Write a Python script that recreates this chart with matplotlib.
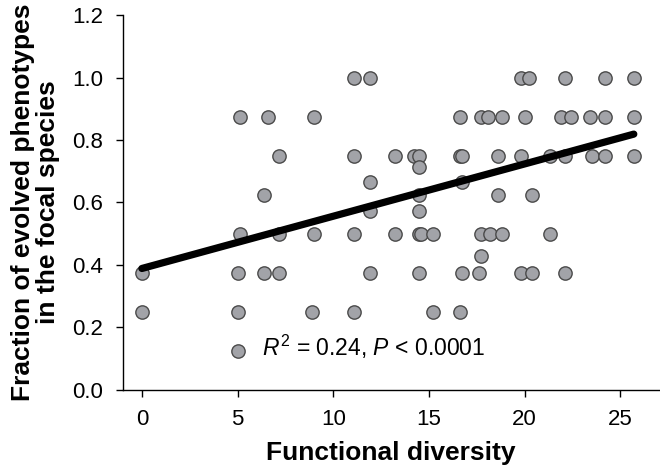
import numpy as np
import matplotlib
matplotlib.use("Agg")
import matplotlib.pyplot as plt

plt.rcParams['font.family'] = ['Liberation Sans', 'DejaVu Sans']
plt.rcParams['mathtext.fontset'] = 'custom'
plt.rcParams['mathtext.rm'] = 'Liberation Sans'
plt.rcParams['mathtext.it'] = 'Liberation Sans:italic'

# Data (x = functional diversity, y = fraction)
x_100 = [11.1, 11.9, 19.8, 20.2, 22.1, 24.2, 25.7]
x_0875 = [5.1, 6.6, 9.0, 16.6, 17.7, 18.1, 18.8, 20.0, 21.9, 22.4, 23.4, 24.2, 25.7]
x_075 = [7.15, 11.1, 13.2, 14.2, 14.5, 16.6, 16.7, 18.6, 19.8, 21.3, 22.1, 23.5, 24.2, 25.7]
x_0714 = [14.5]
x_0667 = [11.9, 16.7]
x_0625 = [6.4, 14.5, 18.6, 20.4]
x_0571 = [11.9, 14.5]
x_050 = [5.1, 7.15, 9.0, 11.1, 13.2, 14.5, 14.6, 15.2, 17.7, 18.2, 18.8, 21.3]
x_0429 = [17.7]
x_0375 = [0.0, 5.0, 6.4, 7.15, 11.9, 14.5, 16.7, 17.6, 19.8, 20.4, 22.1]
x_025 = [0.0, 5.0, 8.9, 11.1, 15.2, 16.6]
x_0125 = [5.0]

row_values = [1.0, 0.875, 0.75, 5/7, 2/3, 0.625, 4/7, 0.5, 3/7, 0.375, 0.25, 0.125]
row_xs = [x_100, x_0875, x_075, x_0714, x_0667, x_0625, x_0571, x_050, x_0429, x_0375, x_025, x_0125]

# Regression line (as shown in the figure)
fit_intercept = 0.388
fit_slope = 0.01676

xticks = [0, 5, 10, 15, 20, 25]
yticks = [0.0, 0.2, 0.4, 0.6, 0.8, 1.0, 1.2]

xs = np.concatenate([np.array(v, float) for v in row_xs])
ys = np.concatenate([np.full(len(v), r) for v, r in zip(row_xs, row_values)])

fig = plt.figure(figsize=(6.6, 4.75), dpi=100)
ax = fig.add_axes([0.186, 0.18, 0.812, 0.788])

ax.scatter(xs, ys, s=92, facecolor='#a2a3a8', edgecolor='#4a4a4a', linewidth=1.0, zorder=3)
lx = np.array([xs.min(), xs.max()])
ax.plot(lx, fit_intercept + fit_slope * lx, color='black', linewidth=5.2, solid_capstyle='round', zorder=4)

ax.text(6.3, 0.136, r'$\mathit{R}^{2}$ = 0.24, $\mathit{P}$ < 0.0001', fontsize=16.5,
        va='center', ha='left', zorder=5)

ax.set_xlim(-1, 27)
ax.set_ylim(0, 1.2)
ax.set_xticks(xticks)
ax.set_yticks(yticks)
ax.set_yticklabels([f'{v:.1f}' for v in yticks])
ax.spines['top'].set_visible(False)
ax.spines['right'].set_visible(False)
for s in ['left', 'bottom']:
    ax.spines[s].set_linewidth(1.0)
ax.tick_params(direction='out', length=5, width=1.0, labelsize=16)
ax.tick_params(axis='x', pad=9)
ax.tick_params(axis='y', pad=9)
ax.set_xlabel('Functional diversity', fontsize=19, fontweight='bold', labelpad=8)
ax.set_ylabel('Fraction of evolved phenotypes\nin the focal species', fontsize=19,
              fontweight='bold', labelpad=9, linespacing=1.02)

fig.savefig('out.png', dpi=100)
